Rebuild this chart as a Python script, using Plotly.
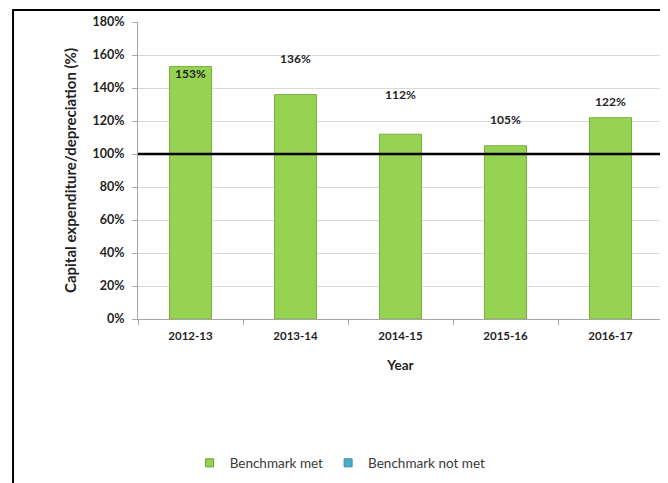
import plotly.graph_objects as go

years = ["2012-13", "2013-14", "2014-15", "2015-16", "2016-17"]
ratio_pct = [153, 136, 112, 105, 122]
benchmark_pct = 100
# vertical placement of the value labels (labels float at varying heights in the original)
label_y = [149, 158, 136, 121, 132]

FONT = "Lato"
TXT = "#1f1f1f"
GREEN = "#97d352"
BLUE = "#4bacc6"

fig = go.Figure()
fig.add_trace(go.Bar(
    x=years, y=ratio_pct, name="Benchmark met", width=0.4,
    marker=dict(color=GREEN, line=dict(color="#79b23c", width=1)),
    showlegend=False,
))
# legend entries (small squares, like the original)
fig.add_trace(go.Scatter(x=[None], y=[None], mode="markers", name="Benchmark met",
                         marker=dict(symbol="square", size=8, color=GREEN,
                                     line=dict(color="#6a9e33", width=1))))
fig.add_trace(go.Scatter(x=[None], y=[None], mode="markers", name="Benchmark not met",
                         marker=dict(symbol="square", size=8, color=BLUE,
                                     line=dict(color="#3a8ea6", width=1))))

for yr, v, ly in zip(years, ratio_pct, label_y):
    fig.add_annotation(x=yr, y=ly, text=f"<b>{v}%</b>", showarrow=False,
                       font=dict(family=FONT, size=12, color=TXT), yanchor="middle")

# benchmark line
fig.add_shape(type="line", xref="paper", yref="y", x0=0, x1=1.05,
              y0=benchmark_pct, y1=benchmark_pct,
              line=dict(color="black", width=2.5))
# outer chart border
fig.add_shape(type="rect", xref="paper", yref="paper", x0=-0.238, x1=1.1,
              y0=-0.6, y1=1.04, line=dict(color="black", width=2),
              fillcolor="rgba(0,0,0,0)", layer="below")

fig.update_layout(
    width=668, height=483,
    margin=dict(l=130, r=13, t=14, b=165),
    paper_bgcolor="white", plot_bgcolor="white",
    font=dict(family=FONT, color=TXT),
    showlegend=True,
    legend=dict(orientation="h", x=0.385, xanchor="center", y=-0.485, yanchor="middle",
                font=dict(family=FONT, size=13.5, color="#3a3a3a"),
                itemwidth=30, traceorder="normal"),
    xaxis=dict(
        title=dict(text="<b>Year</b>", font=dict(family=FONT, size=13.5, color=TXT), standoff=19),
        tickfont=dict(family=FONT, size=11.5, color=TXT),
        tickprefix="<b>", ticksuffix="</b>",
        ticklabelstandoff=6,
        showline=True, linecolor="#a6a6a6", linewidth=1,
        ticks="outside", tickson="boundaries", ticklen=5, tickcolor="#a6a6a6",
        showgrid=False, range=[-0.5, 4.5], automargin=False,
    ),
    yaxis=dict(
        title=dict(text="<b>Capital expenditure/depreciation (%)</b>",
                   font=dict(family=FONT, size=15, color=TXT), standoff=12),
        range=[0, 180], tick0=0, dtick=20,
        tickprefix="<b>", ticksuffix="%</b>",
        tickfont=dict(family=FONT, size=12.5, color=TXT),
        ticklabelstandoff=5,
        showline=True, linecolor="#a6a6a6", linewidth=1,
        ticks="outside", ticklen=5, tickcolor="#a6a6a6",
        showgrid=True, gridcolor="#d9d9d9", gridwidth=1,
        zeroline=False, automargin=False,
    ),
)

fig.write_html("out.html")
